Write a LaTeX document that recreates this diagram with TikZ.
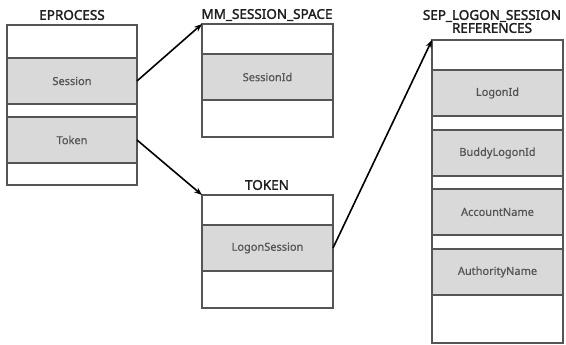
\documentclass[tikz,border=0pt]{standalone}
\usepackage{fontspec}
\setmainfont{Noto Sans}
\newfontfamily\headfont{Noto Sans}[FakeBold=1.8]
\newfontfamily\cellfont{Noto Sans}[FakeBold=0.7]
\usetikzlibrary{arrows.meta}

\definecolor{rowfill}{HTML}{D9D9D9}
\definecolor{rowline}{HTML}{555555}
\definecolor{labelgray}{HTML}{555555}
\definecolor{titleink}{HTML}{1E1E1E}

\tikzset{
  cell/.style={draw=rowline, line width=2pt, inner sep=0pt, outer sep=0pt,
               anchor=north west, minimum width=131pt},
  gap/.style={cell},
  field/.style={cell, fill=rowfill, text=labelgray,
                font=\cellfont\fontsize{11}{12}\selectfont},
  title/.style={text=titleink, font=\headfont\fontsize{13.5}{13}\selectfont, align=center},
  link/.style={-{Stealth[length=8pt,width=6pt]}, line width=1.6pt, black}
}

\begin{document}
\begin{tikzpicture}[x=1pt, y=-1pt]
\useasboundingbox (0,0) rectangle (566,345);

% EPROCESS
\node[title] (eptitle) at (72,15) {EPROCESS};
\node[gap, minimum width=130pt, minimum height=33pt] (ep0) at (7,25) {};
\node[field, minimum width=130pt, minimum height=46pt] (session) at (7,58) {Session};
\node[gap, minimum width=130pt, minimum height=13pt] (ep1) at (7,104) {};
\node[field, minimum width=130pt, minimum height=46pt] (token) at (7,117) {Token};
\node[gap, minimum width=130pt, minimum height=22pt] (ep2) at (7,163) {};

% MM_SESSION_SPACE
\node[title] (mmtitle) at (267,15) {MM\_SESSION\_SPACE};
\node[gap, minimum height=30pt] (mm0) at (202,24) {};
\node[field, minimum height=46pt] (sessionid) at (202,54) {SessionId};
\node[gap, minimum height=37pt] (mm1) at (202,100) {};

% TOKEN
\node[title] (tktitle) at (267,185) {TOKEN};
\node[gap, minimum height=30pt] (tk0) at (202,195) {};
\node[field, minimum height=46pt] (logonsession) at (202,225) {LogonSession};
\node[gap, minimum height=37pt] (tk1) at (202,271) {};

% SEP_LOGON_SESSION_REFERENCES
\node[title] (septitle) at (492,21.5) {SEP\_LOGON\_SESSION\\REFERENCES};
\node[gap, minimum height=30pt] (sep0) at (432,40) {};
\foreach \name/\y in {LogonId/70, BuddyLogonId/130, AccountName/189, AuthorityName/249}{
  \node[field, minimum height=46pt] (\name) at (432,\y) {\name};
}
\node[gap, minimum height=14pt] (sep1) at (432,116) {};
\node[gap, minimum height=13pt] (sep2) at (432,176) {};
\node[gap, minimum height=14pt] (sep3) at (432,235) {};
\node[gap, minimum height=48pt] (sep4) at (432,295) {};

% pointers
\draw[link] (session.east) -- (mm0.north west);
\draw[link] (token.east) -- (tk0.north west);
\draw[link] (logonsession.east) -- (sep0.north west);
\end{tikzpicture}
\end{document}
